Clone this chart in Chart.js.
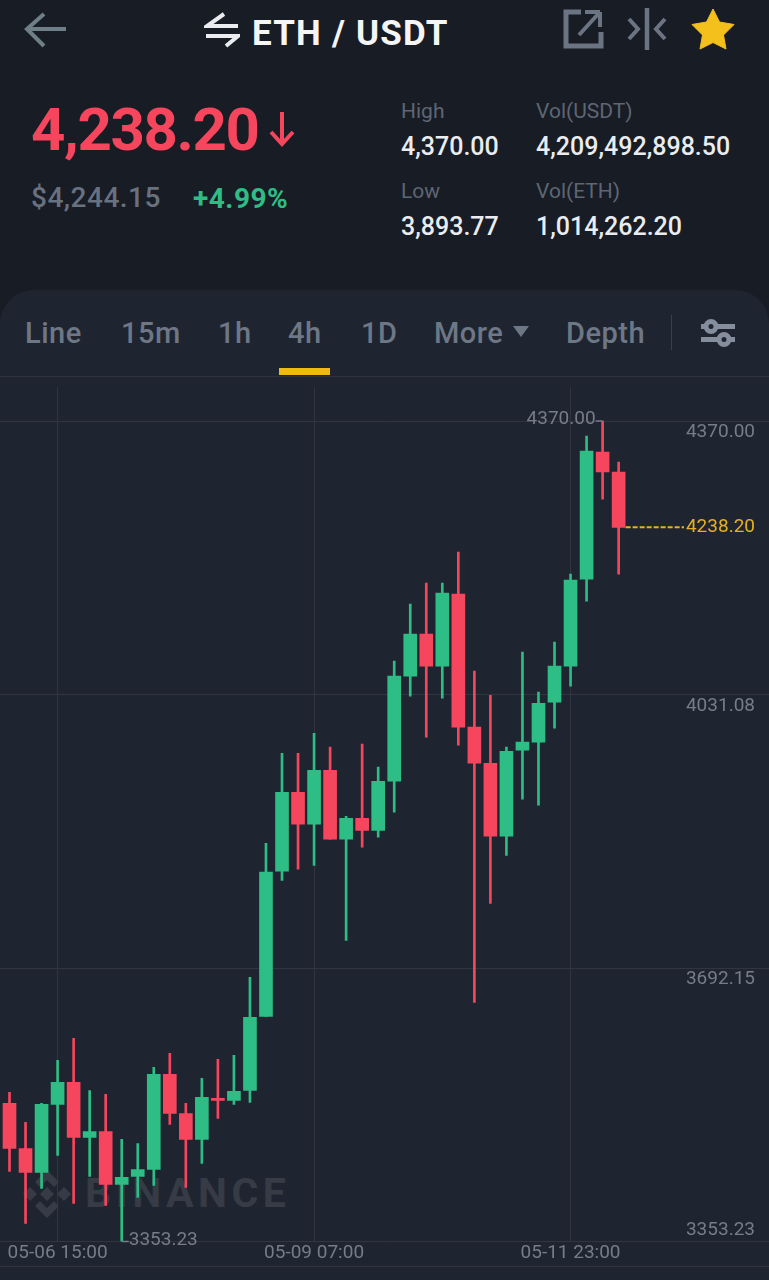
<!DOCTYPE html>
<html>
<head>
<meta charset="utf-8">
<title>ETH / USDT</title>
<script src="https://cdn.jsdelivr.net/npm/chart.js@4/dist/chart.umd.min.js"></script>
<style>
  html, body { margin: 0; padding: 0; background: #181c25; }
  #page { position: relative; width: 769px; height: 1280px; overflow: hidden; background: #181c25; font-family: Roboto, sans-serif; }
  #page div.t { position: absolute; white-space: nowrap; line-height: 1; }
  #page svg { position: absolute; }
  #panel { position: absolute; left: 0; top: 290px; width: 769px; height: 990px; background: #1f2530; border-radius: 34px 34px 0 0; }
  .rule { position: absolute; left: 0; width: 769px; height: 1px; background: #2f343e; }
  .tab { color: #6d7785; font-size: 29px; font-weight: 500; top: 319px; letter-spacing: .5px; }
  .lbl { color: #5e6673; font-size: 21px; }
  .val { color: #eaecef; font-size: 25px; font-weight: 500; }
  #wrap { position: absolute; left: 0; top: 377px; width: 769px; height: 903px; }
</style>
</head>
<body>
<div id="page">
  <svg style="left:24px;top:12px" width="44" height="38" viewBox="0 0 44 38" fill="none" stroke="#6f7f88" stroke-width="4">
    <path d="M3 17 H42 M20 2 L3 17 L20 34"/>
  </svg>
  <svg style="left:204px;top:12px" width="36" height="36" viewBox="0 0 36 36" fill="none" stroke="#eaecef" stroke-width="4">
    <path d="M20 2 L3 14 H34 M2 24 H34 L22 34"/>
  </svg>
  <div class="t" style="left:252px;top:16px;color:#f5f5f5;font-size:35px;font-weight:700;letter-spacing:1.2px">ETH / USDT</div>
  <svg style="left:562px;top:8px" width="44" height="42" viewBox="0 0 44 42" fill="none" stroke="#6b7482" stroke-width="5">
    <path d="M19 4 H4 V38 H39 V24"/>
    <path d="M38 4 H23 M38 4 V19 M38 4 L17 27" stroke-width="4"/>
  </svg>
  <svg style="left:626px;top:6px" width="44" height="46" viewBox="0 0 44 46" fill="none" stroke="#6b7482" stroke-width="4.5">
    <path d="M21 2 V44" />
    <path d="M3 13 L12 23 L3 33 M39 13 L30 23 L39 33" stroke-width="4"/>
  </svg>
  <svg style="left:691px;top:8px" width="44" height="42" viewBox="0 0 44 42">
    <path d="M22 1 L28.5 14 L43 16.5 L32.5 27 L35 41 L22 34.5 L9 41 L11.5 27 L1 16.5 L15.5 14 Z" fill="#f3c01c" stroke="#f3c01c" stroke-width="1" stroke-linejoin="round"/>
  </svg>

  <div class="t" style="left:31px;top:100px;color:#f6465d;font-size:60px;font-weight:700;letter-spacing:-1.4px">4,238.20</div>
  <svg style="left:268px;top:111px" width="28" height="36" viewBox="0 0 28 36" fill="none" stroke="#f6465d" stroke-width="4">
    <path d="M14 1 V33 M3 21 L14 33 L25 21"/>
  </svg>
  <div class="t" style="left:31px;top:184px;color:#687180;font-size:28px;font-weight:500;letter-spacing:.5px">$4,244.15</div>
  <div class="t" style="left:193px;top:185px;color:#2ebd85;font-size:28px;font-weight:700;letter-spacing:.5px">+4.99%</div>

  <div class="t lbl" style="left:401px;top:101px">High</div>
  <div class="t val" style="left:401px;top:134px">4,370.00</div>
  <div class="t lbl" style="left:536px;top:101px">Vol(USDT)</div>
  <div class="t val" style="left:536px;top:134px">4,209,492,898.50</div>
  <div class="t lbl" style="left:401px;top:181px">Low</div>
  <div class="t val" style="left:401px;top:214px">3,893.77</div>
  <div class="t lbl" style="left:536px;top:181px">Vol(ETH)</div>
  <div class="t val" style="left:536px;top:214px">1,014,262.20</div>

  <div id="panel"></div>
  <div class="t tab" style="left:25px">Line</div>
  <div class="t tab" style="left:121px">15m</div>
  <div class="t tab" style="left:218px">1h</div>
  <div class="t tab" style="left:288px">4h</div>
  <div class="t tab" style="left:361px">1D</div>
  <div class="t tab" style="left:434px">More</div>
  <svg style="left:512px;top:325px" width="18" height="13" viewBox="0 0 18 13"><path d="M1 1 H17 L9 12 Z" fill="#6d7785"/></svg>
  <div class="t tab" style="left:566px">Depth</div>
  <div style="position:absolute;left:671px;top:315px;width:1px;height:35px;background:#3a404b"></div>
  <svg style="left:700px;top:318px" width="36" height="30" viewBox="0 0 36 30" fill="#858e9c">
    <rect x="1" y="6" width="34" height="5"/>
    <rect x="1" y="19" width="34" height="5"/>
    <circle cx="11" cy="8.5" r="5" fill="#1f2530" stroke="#858e9c" stroke-width="5"/>
    <circle cx="24" cy="21.5" r="5" fill="#1f2530" stroke="#858e9c" stroke-width="5"/>
  </svg>
  <div style="position:absolute;left:279px;top:368px;width:51px;height:7px;background:#f0b90b"></div>
  <div class="rule" style="top:376px"></div>
  <div class="rule" style="top:1266px"></div>

  <svg style="left:22px;top:1169px" width="50" height="50" viewBox="0 0 50 50" fill="#363b45">
    <path d="M25 1 L37 13 L32 18 L25 11 L18 18 L13 13 Z"/>
    <path d="M25 49 L37 37 L32 32 L25 39 L18 32 L13 37 Z"/>
    <path d="M25 18 L32 25 L25 32 L18 25 Z"/>
    <path d="M8 18 L15 25 L8 32 L1 25 Z"/>
    <path d="M42 18 L49 25 L42 32 L35 25 Z"/>
  </svg>
  <div class="t" style="left:85px;top:1173px;color:#363b45;font-size:41px;font-weight:700;letter-spacing:4.5px">BINANCE</div>

  <div id="wrap"><canvas id="main_chart"></canvas></div>
</div>

<script>
const categories = [
  "05-06 03:00", "05-06 07:00", "05-06 11:00", "05-06 15:00", "05-06 19:00", "05-06 23:00",
  "05-07 03:00", "05-07 07:00", "05-07 11:00", "05-07 15:00", "05-07 19:00", "05-07 23:00",
  "05-08 03:00", "05-08 07:00", "05-08 11:00", "05-08 15:00", "05-08 19:00", "05-08 23:00",
  "05-09 03:00", "05-09 07:00", "05-09 11:00", "05-09 15:00", "05-09 19:00", "05-09 23:00",
  "05-10 03:00", "05-10 07:00", "05-10 11:00", "05-10 15:00", "05-10 19:00", "05-10 23:00",
  "05-11 03:00", "05-11 07:00", "05-11 11:00", "05-11 15:00", "05-11 19:00", "05-11 23:00",
  "05-12 03:00", "05-12 07:00", "05-12 11:00",
];

const opens = [
  3524.3, 3468.5, 3438.8, 3523.1, 3550.4, 3482.2, 3489.6, 3423.9, 3433.8, 3442.5,
  3560.3, 3511.9, 3479.7, 3530.5, 3528.0, 3540.4, 3632.2, 3812.0, 3910.0, 3870.3,
  3937.2, 3851.7, 3877.7, 3862.8, 3923.6, 4053.8, 4105.9, 4066.2, 4155.5, 3990.6,
  3945.9, 3855.4, 3962.0, 3972.0, 4021.6, 4066.2, 4174.1, 4331.6, 4306.8,
];
const highs = [
  3538.0, 3500.8, 3524.3, 3577.6, 3605.0, 3540.4, 3535.5, 3479.7, 3474.7, 3569.0,
  3586.3, 3524.3, 3555.3, 3578.9, 3583.8, 3680.6, 3846.7, 3958.3, 3958.3, 3983.1,
  3965.8, 3880.2, 3969.5, 3941.0, 4072.4, 4143.1, 4169.1, 4169.1, 4207.6, 4060.0,
  4030.2, 3965.8, 4083.6, 4034.0, 4096.0, 4180.3, 4351.4, 4370.0, 4319.2,
];
const lows = [
  3440.0, 3375.5, 3418.9, 3459.8, 3400.3, 3433.8, 3397.8, 3353.23, 3407.8, 3422.6,
  3498.3, 3420.2, 3449.9, 3505.7, 3523.1, 3525.6, 3632.2, 3800.8, 3814.5, 3819.4,
  3851.7, 3726.4, 3841.8, 3854.2, 3885.2, 4029.0, 3978.2, 4026.5, 3968.2, 3649.6,
  3772.3, 3831.8, 3901.3, 3893.8, 3989.3, 4041.4, 4146.8, 4273.3, 4180.3,
];
const closes = [
  3468.5, 3438.8, 3523.1, 3550.4, 3482.2, 3489.6, 3423.9, 3432.6, 3442.5, 3560.3,
  3511.9, 3479.7, 3531.8, 3528.0, 3539.2, 3631.0, 3811.0, 3910.0, 3870.3, 3937.2,
  3851.7, 3877.7, 3862.8, 3923.6, 4053.8, 4105.9, 4066.2, 4156.7, 3990.6, 3945.9,
  3855.4, 3960.8, 3972.0, 4020.3, 4066.2, 4172.8, 4332.8, 4306.8, 4238.2,
];

const y_ticks = [4370.00, 4031.08, 3692.15, 3353.23];
const x_ticks = [3, 19, 35];
const high_mark = { index: 37, value: 4370.00 };
const low_mark = { index: 7, value: 3353.23 };
const last_price = 4238.20;

const up_color = '#2ebd85';
const down_color = '#f6465d';
const grid_color = '#30353f';
const label_color = '#767c88';
const price_color = '#e6b020';
const tick_font = { family: 'Roboto', size: 19 };

const candle_color = ctx => closes[ctx.dataIndex] >= opens[ctx.dataIndex] ? up_color : down_color;

// high / low markers and the dashed last price line
const marks_plugin = {
  id: 'marks',
  afterDatasetsDraw(chart) {
    const { ctx, scales: { x, y } } = chart;
    ctx.save();
    ctx.font = '19px Roboto';
    ctx.textBaseline = 'middle';
    ctx.fillStyle = label_color;
    ctx.strokeStyle = label_color;
    ctx.lineWidth = 1.5;

    const hx = x.getPixelForValue(high_mark.index);
    const hy = y.getPixelForValue(high_mark.value);
    ctx.beginPath();
    ctx.moveTo(hx, hy);
    ctx.lineTo(hx - 7, hy);
    ctx.stroke();
    ctx.textAlign = 'right';
    ctx.fillText(high_mark.value.toFixed(2), hx - 7, hy - 2);

    const lx = x.getPixelForValue(low_mark.index);
    const ly = y.getPixelForValue(low_mark.value);
    ctx.beginPath();
    ctx.moveTo(lx, ly);
    ctx.lineTo(lx + 7, ly);
    ctx.stroke();
    ctx.textAlign = 'left';
    ctx.fillText(low_mark.value.toFixed(2), lx + 7, ly - 1);

    const py = y.getPixelForValue(last_price);
    const px = x.getPixelForValue(opens.length - 1) + 7;
    ctx.strokeStyle = price_color;
    ctx.fillStyle = price_color;
    ctx.lineWidth = 2;
    ctx.setLineDash([5, 2]);
    ctx.beginPath();
    ctx.moveTo(px, py);
    ctx.lineTo(684, py);
    ctx.stroke();
    ctx.setLineDash([]);
    ctx.textAlign = 'right';
    ctx.fillText(last_price.toFixed(2), 755, py);
    ctx.restore();
  },
};

new Chart('main_chart', {
  type: 'bar',
  data: {
    datasets: [
      {
        label: 'Body',
        data: opens.map((o, i) => ({ x: i, y: [o, closes[i]] })),
        backgroundColor: candle_color,
        barThickness: 13,
        grouped: false,
      },
      {
        label: 'Wick',
        data: lows.map((l, i) => ({ x: i, y: [l, highs[i]] })),
        backgroundColor: candle_color,
        barThickness: 2,
        grouped: false,
      },
    ],
  },
  options: {
    responsive: true,
    maintainAspectRatio: false,
    animation: false,
    events: [],
    layout: { padding: { top: 10 } },
    plugins: { legend: { display: false }, tooltip: { enabled: false } },
    scales: {
      x: {
        type: 'linear',
        offset: false,
        min: -0.593,
        max: 47.38,
        afterBuildTicks: scale => { scale.ticks = x_ticks.map(value => ({ value })); },
        afterFit: scale => { scale.height = 38.5; scale.paddingLeft = 0; scale.paddingRight = 0; },
        grid: { color: grid_color, drawTicks: false, offset: false },
        border: { display: false },
        ticks: {
          callback: value => categories[value],
          autoSkip: false,
          maxRotation: 0,
          padding: 0,
          color: label_color,
          font: tick_font,
        },
      },
      y: {
        position: 'right',
        min: 3353.23,
        max: 4412.15,
        afterBuildTicks: scale => { scale.ticks = y_ticks.map(value => ({ value })); },
        afterFit: scale => { scale.width = 0; scale.paddingTop = 0; scale.paddingBottom = 0; },
        grid: { color: grid_color, drawTicks: false },
        border: { display: false },
        ticks: {
          mirror: true,
          autoSkip: false,
          padding: -14,
          labelOffset: 11.5,
          color: label_color,
          font: tick_font,
          // lowest label sits above its line, the others below
          callback: value => value === 3353.23 ? [value.toFixed(2), '', ''] : value.toFixed(2),
        },
      },
    },
  },
  plugins: [marks_plugin],
});
</script>
</body>
</html>
